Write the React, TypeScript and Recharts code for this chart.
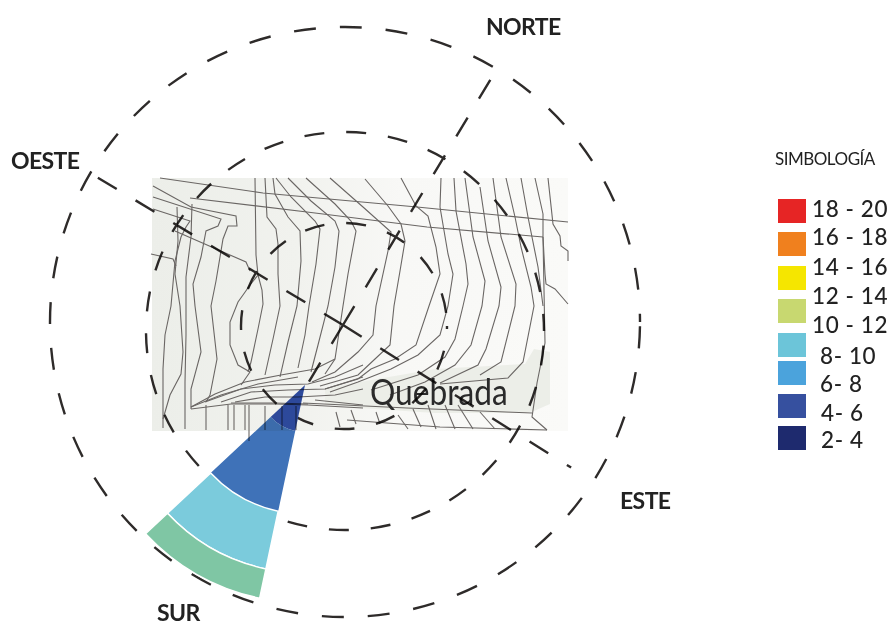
import React from 'react';
import {
  ComposedChart, Line, Area, XAxis, YAxis, ReferenceArea,
  PieChart, Pie, Cell, PolarGrid
} from 'recharts';

type Pt = [number, number];

// contour lines, in picture units
const roadLines: Pt[][] = [
  [[160,178],[263,193],[417,207],[568,222]],
  [[190,198],[307,212],[427,227],[543,237]],
  [[543,237],[545,343],[537,383],[532,417],[547,430]],
  [[303,403],[407,408],[532,413]],
  [[347,420],[440,427],[547,430]],
];

const leftContours: Pt[][] = [
  [[153,186],[191,207],[236,216],[237,226],[228,226],[223,239],[216,281],[211,306],[217,359],[210,395],[206,402]],
  [[153,197],[221,219],[218,226],[206,231],[201,257],[193,284],[195,306],[201,352],[191,389],[191,409]],
  [[153,209],[190,221],[186,227],[181,237],[175,261],[171,306],[165,335],[163,369],[163,428]],
  [[177,207],[178,241],[175,274],[180,306],[183,352],[181,374],[170,395],[163,419]],
  [[192,204],[191,237],[186,277],[186,335],[185,382],[185,429]],
  [[175,231],[246,262],[250,271]],
  [[151,254],[173,259],[176,266]],
  [[255,178],[256,255],[258,275],[250,285],[243,295],[238,302],[230,322],[230,345],[238,365],[250,372],[241,385]],
  [[258,275],[262,290],[263,304],[258,329],[251,362],[248,372]],
  [[265,178],[267,217],[276,229],[278,244],[278,274],[280,306],[273,339],[265,375]],
  [[273,178],[275,194],[288,217],[300,231],[301,261],[297,306],[288,342],[280,377]],
  [[276,178],[291,197],[315,221],[320,229],[316,264],[309,306],[305,335],[298,368]],
  [[288,178],[311,201],[335,221],[339,231],[335,267],[328,306],[318,345],[311,372]],
  [[306,178],[335,204],[351,221],[356,231],[348,274],[343,306],[335,359],[325,374]],
];

const rightContours: Pt[][] = [
  [[330,178],[363,207],[391,232],[388,251],[376,306],[373,335],[358,352],[335,372],[312,382]],
  [[365,179],[388,206],[401,224],[405,241],[400,271],[394,306],[390,345],[375,359],[358,375],[320,386]],
  [[401,178],[416,206],[428,216],[436,247],[440,274],[429,306],[416,345],[395,359],[371,369],[358,379],[325,389]],
  [[441,178],[440,207],[448,254],[453,274],[448,306],[440,335],[418,355],[391,369],[358,382],[330,392]],
  [[454,178],[456,211],[466,264],[468,284],[463,306],[455,339],[445,357],[418,375],[371,390]],
  [[465,178],[473,237],[485,281],[482,306],[471,345],[455,365],[425,382],[390,395]],
  [[480,187],[488,241],[501,287],[499,306],[486,349],[478,365],[440,383]],
  [[493,178],[501,237],[516,284],[515,306],[501,362],[480,375]],
  [[506,178],[515,217],[521,247],[531,287],[534,306],[523,362],[508,378],[440,384]],
  [[521,178],[528,217],[538,267],[543,306]],
  [[535,178],[543,214],[543,237],[545,274],[546,284],[555,289],[568,304]],
  [[548,178],[553,224],[560,236],[561,246],[568,251],[568,261]],
];

const quebradaContours: Pt[][] = [
  [[191,407],[215,394],[245,382],[281,375],[315,369],[335,359]],
  [[191,407],[221,395],[258,384],[298,377]],
  [[205,402],[241,389],[275,385],[308,384],[335,377],[363,365]],
  [[221,402],[251,392],[288,390],[325,389],[363,377]],
  [[235,402],[265,397],[298,397],[335,395],[363,389]],
  [[191,409],[231,404],[275,404],[308,405],[363,408]],
  [[231,403],[275,403],[308,404]],
  [[315,400],[363,405]],
];

const bottomTails: Pt[][] = [
  [[206,405],[206,430]],
  [[228,405],[228,430]],
  [[234,405],[234,430]],
  [[245,405],[245,430]],
  [[249,405],[249,441]],
  [[265,406],[265,430]],
  [[282,406],[282,430]],
  [[296,406],[296,430]],
  [[336,412],[340,427]],
  [[351,410],[356,424]],
  [[376,412],[380,424]],
  [[398,415],[408,429]],
  [[413,409],[421,427]],
  [[428,405],[436,429]],
  [[445,405],[455,429]],
  [[458,405],[473,429]],
  [[480,412],[495,429]],
];

const quebradaBand = [
  { x: 325, band: [388, 404] },
  { x: 360, band: [382, 408] },
  { x: 435, band: [369, 413] },
  { x: 525, band: [364, 413] },
  { x: 534, band: [349, 411] },
  { x: 550, band: [352, 404] },
];

const contourLines = [...roadLines, ...leftContours, ...rightContours, ...quebradaContours, ...bottomTails];

// wedge rings pointing SSW, inner to outer
const ringNames = ['2-4', '4-6', '8-10', '10-12'];
const ringValues = [1, 1, 1, 1];
const ringColors = ['#2f4da6', '#3f72b8', '#7bcbdc', '#7fc6a4'];
const ringRadii = [0, 47, 129, 188, 218];

const legendLabels = ['18 - 20', '16 - 18', '14 - 16', '12 - 14', '10 - 12', '8- 10', '6- 8', '4- 6', '2- 4'];
const legendColors = ['#e62525', '#f0801e', '#f5e600', '#c8d870', '#6cc5d9', '#4ba3dc', '#36509f', '#1e2a6e'];

const W = 896;
const H = 624;
const dash = '#2e2b2a';
const labelFont = 'Lato, sans-serif';

const swatchTops = [199, 232, 266, 299, 333, 361, 394, 426];
const textTops = [209, 237, 267, 296, 325, 356, 384, 413, 440];
const textLefts = [812, 812, 812, 812, 812, 820, 820, 821, 821];

// each grid gets its own polar chart, the grid takes centre and radius from the chart
const circleGrids = [
  { cx: 345, cy: 322, r: 295, pattern: '22 24', phase: -4.4 },
  { cx: 345, cy: 331, r: 199, pattern: '20 22', phase: -14.6 },
  { cx: 344, cy: 326, r: 103, pattern: '20 22', phase: -25 },
];
const radialGrids = [
  { r: 297, angles: [59, 149] },
  { r: 269, angles: [328] },
  { r: 90, angles: [239] },
];

const Caption: React.FC<{ x: number; y: number; size?: number; weight?: number; spacing?: number; children: React.ReactNode }> = ({ x, y, size = 23, weight = 700, spacing = -0.6, children }) => (
  <div style={{ position: 'absolute', left: x, top: y, transform: 'translateY(-50%)', fontFamily: labelFont, fontSize: size, fontWeight: weight, letterSpacing: spacing, color: '#222', lineHeight: 1, whiteSpace: 'nowrap' }}>
    {children}
  </div>
);

const layer: React.CSSProperties = { position: 'absolute', left: 0, top: 0 };

export default function App() {
  return (
    <div style={{ position: 'absolute', left: 0, top: 0, width: W, height: H, overflow: 'hidden', background: '#fff' }}>
      <div style={{ ...layer, filter: 'blur(0.35px)' }}>
        <ComposedChart width={W} height={H} margin={{ top: 0, right: 0, left: 0, bottom: 0 }}>
          <defs>
            <linearGradient id="mapShade" x1="0" y1="0" x2="1" y2="0">
              <stop offset="0%" stopColor="#eceee9" />
              <stop offset="35%" stopColor="#f1f2ee" />
              <stop offset="60%" stopColor="#f8f8f6" />
              <stop offset="100%" stopColor="#fafaf8" />
            </linearGradient>
          </defs>
          <XAxis type="number" dataKey="x" domain={[0, W]} hide allowDataOverflow />
          <YAxis type="number" domain={[0, H]} reversed hide allowDataOverflow />
          <ReferenceArea x1={152} x2={568} y1={178} y2={431} fill="url(#mapShade)" fillOpacity={1} stroke="none" />
          <Area data={quebradaBand} dataKey="band" type="linear" fill="#eceee8" fillOpacity={1} stroke="none" dot={false} activeDot={false} isAnimationActive={false} />
          {contourLines.map((pts, i) => (
            <Line
              key={i}
              data={pts.map(([x, y]) => ({ x, y }))}
              dataKey="y"
              type="linear"
              stroke="#6a6664"
              strokeWidth={1.1}
              dot={false}
              activeDot={false}
              isAnimationActive={false}
            />
          ))}
        </ComposedChart>
      </div>

      <div style={{ position: 'absolute', left: 370, top: 391, transform: 'translateY(-50%) scaleX(0.88)', transformOrigin: 'left center', fontFamily: 'Lato, sans-serif', fontWeight: 400, fontSize: 36, color: '#2a2a2a', lineHeight: 1 }}>
        Quebrada
      </div>

      <div style={{ ...layer, width: W, height: H, mixBlendMode: 'multiply', filter: 'blur(0.35px)' }}>
        {circleGrids.map((g) => (
          <div key={g.r} style={layer}>
            <PieChart width={W} height={H} margin={{ top: 0, right: 0, left: 0, bottom: 0 }} cx={g.cx} cy={g.cy} outerRadius={g.r}>
              <PolarGrid gridType="circle" radialLines={false} polarAngles={[]} polarRadius={[g.r]} stroke={dash} strokeWidth={2.4} strokeDasharray={g.pattern} strokeDashoffset={g.phase} />
            </PieChart>
          </div>
        ))}
        {radialGrids.map((g) => (
          <div key={g.r} style={layer}>
            <PieChart width={W} height={H} margin={{ top: 0, right: 0, left: 0, bottom: 0 }} cx={343} cy={325} outerRadius={g.r}>
              <PolarGrid gridType="circle" polarAngles={g.angles} polarRadius={[]} stroke={dash} strokeWidth={2.4} strokeDasharray="22 22" />
            </PieChart>
          </div>
        ))}
        <div style={layer}>
          <PieChart width={W} height={H} margin={{ top: 0, right: 0, left: 0, bottom: 0 }}>
            {ringNames.map((name, i) => (
              <Pie
                key={name}
                data={[{ name, value: ringValues[i] }]}
                dataKey="value"
                cx={305}
                cy={385}
                startAngle={223}
                endAngle={258}
                innerRadius={ringRadii[i]}
                outerRadius={ringRadii[i + 1]}
                stroke={i >= 2 ? '#fff' : 'none'}
                strokeWidth={i >= 2 ? 1.5 : 0}
                isAnimationActive={false}
              >
                <Cell fill={ringColors[i]} />
              </Pie>
            ))}
          </PieChart>
        </div>
      </div>

      <Caption x={486} y={26}>NORTE</Caption>
      <Caption x={11} y={160}>OESTE</Caption>
      <Caption x={620} y={500}>ESTE</Caption>
      <Caption x={157} y={612}>SUR</Caption>
      <Caption x={775} y={158} size={17} weight={400} spacing={-0.5}>SIMBOLOGÍA</Caption>

      {legendColors.map((c, i) => (
        <div key={c} style={{ position: 'absolute', left: 778, top: swatchTops[i], width: 28, height: 24, background: c }} />
      ))}
      {legendLabels.map((t, i) => (
        <Caption key={t} x={textLefts[i]} y={textTops[i]} size={22.5} weight={500} spacing={0.6}>{t}</Caption>
      ))}
    </div>
  );
}
